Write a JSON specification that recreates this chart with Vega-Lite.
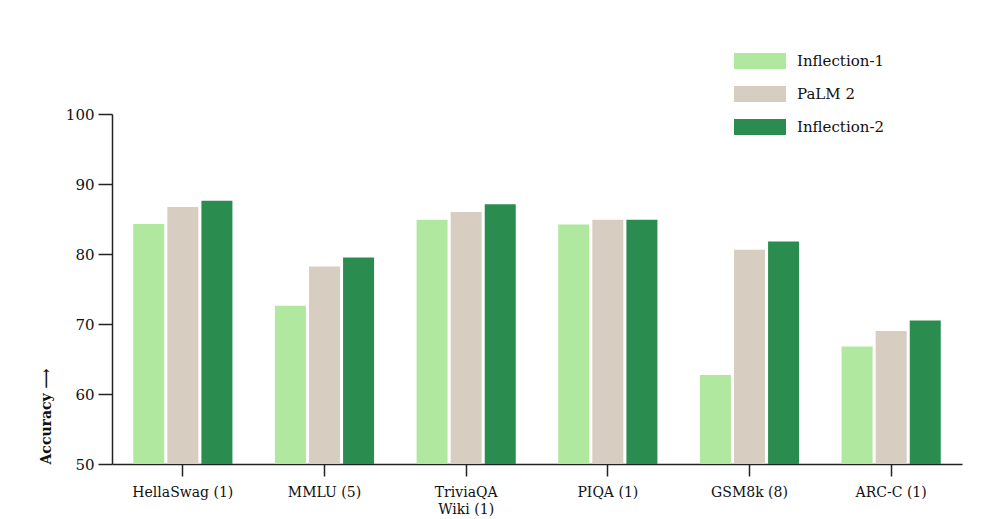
{
  "$schema": "https://vega.github.io/schema/vega-lite/v6.json",
  "width": 850,
  "height": 350,
  "autosize": {"type": "none"},
  "padding": {"left": 112, "top": 114, "right": 38, "bottom": 55},
  "background": "white",
  "data": {
    "values": [
      {"benchmark": "HellaSwag (1)", "model": "Inflection-1", "accuracy": 84.3},
      {"benchmark": "HellaSwag (1)", "model": "PaLM 2", "accuracy": 86.7},
      {"benchmark": "HellaSwag (1)", "model": "Inflection-2", "accuracy": 87.6},
      {"benchmark": "MMLU (5)", "model": "Inflection-1", "accuracy": 72.6},
      {"benchmark": "MMLU (5)", "model": "PaLM 2", "accuracy": 78.2},
      {"benchmark": "MMLU (5)", "model": "Inflection-2", "accuracy": 79.5},
      {"benchmark": "TriviaQA|Wiki (1)", "model": "Inflection-1", "accuracy": 84.9},
      {"benchmark": "TriviaQA|Wiki (1)", "model": "PaLM 2", "accuracy": 86.0},
      {"benchmark": "TriviaQA|Wiki (1)", "model": "Inflection-2", "accuracy": 87.1},
      {"benchmark": "PIQA (1)", "model": "Inflection-1", "accuracy": 84.2},
      {"benchmark": "PIQA (1)", "model": "PaLM 2", "accuracy": 84.9},
      {"benchmark": "PIQA (1)", "model": "Inflection-2", "accuracy": 84.9},
      {"benchmark": "GSM8k (8)", "model": "Inflection-1", "accuracy": 62.7},
      {"benchmark": "GSM8k (8)", "model": "PaLM 2", "accuracy": 80.6},
      {"benchmark": "GSM8k (8)", "model": "Inflection-2", "accuracy": 81.8},
      {"benchmark": "ARC-C (1)", "model": "Inflection-1", "accuracy": 66.8},
      {"benchmark": "ARC-C (1)", "model": "PaLM 2", "accuracy": 69.0},
      {"benchmark": "ARC-C (1)", "model": "Inflection-2", "accuracy": 70.5}
    ]
  },
  "mark": {"type": "bar", "clip": true},
  "encoding": {
    "x": {
      "field": "benchmark",
      "type": "nominal",
      "sort": null,
      "scale": {"paddingInner": 0.3, "paddingOuter": 0.15},
      "axis": {
        "title": null,
        "labelAngle": 0,
        "labelExpr": "split(datum.label, '|')",
        "labelFont": "DejaVu Serif",
        "labelFontSize": 14,
        "labelColor": "#111111",
        "labelPadding": 9,
        "labelLineHeight": 17,
        "tickSize": 12,
        "tickColor": "#222222",
        "tickWidth": 1.5,
        "domainColor": "#222222",
        "domainWidth": 1.5,
        "grid": false
      }
    },
    "xOffset": {
      "field": "model",
      "type": "nominal",
      "sort": ["Inflection-1", "PaLM 2", "Inflection-2"],
      "scale": {"paddingInner": 0.09}
    },
    "y": {
      "field": "accuracy",
      "type": "quantitative",
      "scale": {"domain": [50, 100], "nice": false, "zero": false},
      "axis": {
        "title": "Accuracy ⟶",
        "titleFont": "DejaVu Serif",
        "titleFontSize": 14,
        "titleFontWeight": "bold",
        "titleColor": "#111111",
        "titlePadding": 12,
        "titleAnchor": "start",
        "values": [50, 60, 70, 80, 90, 100],
        "labelFont": "DejaVu Serif",
        "labelFontSize": 15,
        "labelColor": "#111111",
        "labelPadding": 4,
        "tickSize": 14,
        "tickColor": "#222222",
        "tickWidth": 1.5,
        "domainColor": "#222222",
        "domainWidth": 1.5,
        "grid": false
      }
    },
    "color": {
      "field": "model",
      "type": "nominal",
      "sort": ["Inflection-1", "PaLM 2", "Inflection-2"],
      "scale": {
        "domain": ["Inflection-1", "PaLM 2", "Inflection-2"],
        "range": ["#b1e8a0", "#d7cdc0", "#2b8c4f"]
      },
      "legend": {
        "title": null,
        "orient": "none",
        "legendX": 635,
        "legendY": -66,
        "padding": 0,
        "symbolType": "M-2,-0.62H2V0.62H-2Z",
        "symbolSize": 676,
        "symbolStrokeWidth": 0,
        "symbolOpacity": 1,
        "labelFont": "DejaVu Serif",
        "labelFontSize": 15,
        "labelColor": "#111111",
        "labelOffset": 24,
        "rowPadding": 11
      }
    }
  },
  "config": {
    "view": {"stroke": null}
  }
}
